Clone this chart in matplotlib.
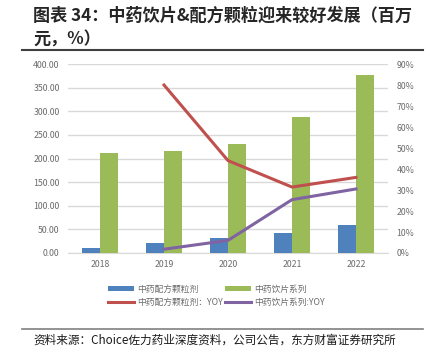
import matplotlib.pyplot as plt
import numpy as np

plt.rcParams['font.family'] = ['Noto Sans CJK SC', 'DejaVu Sans']

# 数据
years = ['2018', '2019', '2020', '2021', '2022']
granule = [10.6, 21, 32.6, 43, 58.6]          # 中药配方颗粒剂
slices = [211, 215, 230, 288, 377]            # 中药饮片系列
granule_yoy = [np.nan, 80, 44, 31.4, 36]      # 中药配方颗粒剂：YOY
slices_yoy = [np.nan, 1.8, 6, 25.4, 30.5]     # 中药饮片系列:YOY

left_ticks = np.arange(0, 401, 50)
right_ticks = np.arange(0, 91, 10)

blue, green, red, purple = '#4F81BD', '#9BBB59', '#C0504D', '#8064A2'
tick_color = '#6b6b6b'

fig = plt.figure(figsize=(4.28, 3.62), dpi=100)
ax = fig.add_axes([68 / 428, 1 - 253 / 362, 320 / 428, 189 / 362])
ax2 = ax.twinx()

x = np.arange(len(years))
w = 0.28
b1 = ax.bar(x - w / 2, granule, w, color=blue, zorder=3, label='中药配方颗粒剂')
b2 = ax.bar(x + w / 2, slices, w, color=green, zorder=3, label='中药饮片系列')

l1, = ax2.plot(x, granule_yoy, color=red, lw=2.2, label='中药配方颗粒剂：YOY')
l2, = ax2.plot(x, slices_yoy, color=purple, lw=2.2, label='中药饮片系列:YOY')

ax.set_xlim(-0.5, len(years) - 0.5)
ax.set_ylim(0, 400)
ax2.set_ylim(0, 90)
ax.set_yticks(left_ticks)
ax.set_yticklabels([f'{v:.2f}' for v in left_ticks])
ax2.set_yticks(right_ticks)
ax2.set_yticklabels([f'{v}%' for v in right_ticks])
ax.set_xticks(x)
ax.set_xticklabels(years)

ax.grid(axis='y', color='#D9D9D9', lw=1, zorder=0)
for a in (ax, ax2):
    for s in a.spines.values():
        s.set_visible(False)
    a.tick_params(length=0, labelsize=6.3, colors=tick_color, pad=6)
ax.spines['bottom'].set_visible(True)
ax.spines['bottom'].set_color('#D9D9D9')
ax.tick_params(axis='x', pad=5)

fig.legend([b1, l1, b2, l2],
           ['中药配方颗粒剂', '中药配方颗粒剂：YOY', '中药饮片系列', '中药饮片系列:YOY'],
           ncol=2, loc='upper left', bbox_to_anchor=(100 / 428, 1 - 277 / 362),
           frameon=False, fontsize=6.3, handlelength=3.0, handleheight=0.5,
           handletextpad=0.3, columnspacing=0.3, labelspacing=0.5,
           labelcolor=tick_color)

fig.text(33 / 428, 1 - 7 / 362, '图表 34：中药饮片&配方颗粒迎来较好发展（百万\n元，%）',
         fontsize=12.3, fontweight='bold', va='top', ha='left', linespacing=1.4,
         color='#262626')

fig.add_artist(plt.Line2D([22 / 428, 423 / 428], [1 - 50 / 362] * 2, color='#404040', lw=1.5))
fig.add_artist(plt.Line2D([22 / 428, 423 / 428], [1 - 329 / 362] * 2, color='#808080', lw=1.2))

fig.text(33 / 428, 1 - 340 / 362, '资料来源：Choice佐力药业深度资料，公司公告，东方财富证券研究所',
         fontsize=8.4, va='center', ha='left', color='#1a1a1a')

fig.savefig('out.png', dpi=100)
